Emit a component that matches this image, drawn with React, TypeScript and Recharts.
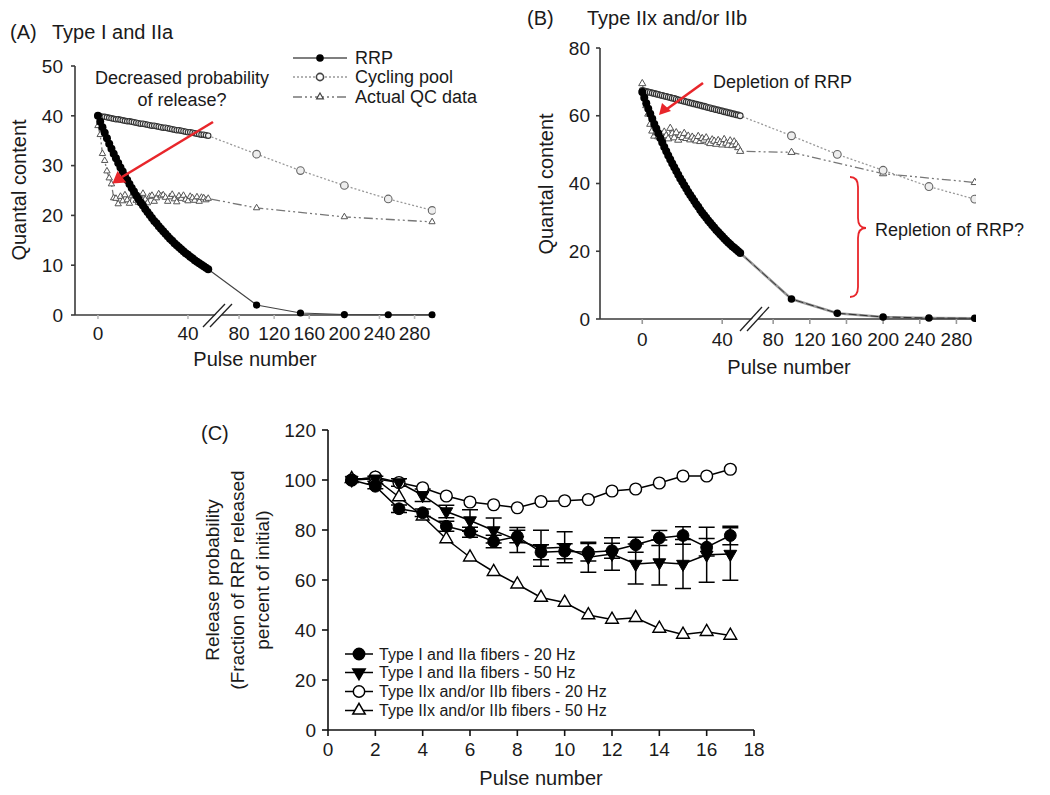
import React from "react";
import { LineChart, Line, XAxis, YAxis, ErrorBar, Legend } from "recharts";

const FONT = "'Liberation Sans', Arial, Helvetica, sans-serif";
const RED = "#e8262b";

// ---- panels A and B (pulse numbers, broken x axis) ----
const densePulses = Array.from({ length: 50 }, (_, i) => i);
const latePulses = [100, 150, 200, 250, 300];
const qcLatePulses = [100, 200, 300];
const pulseTicks = [0, 40, 80, 120, 160, 200, 240, 280];

// Panel A: Type I and IIa
const rrpA = [
  40.0, 38.8, 37.7, 36.6, 35.5, 34.4, 33.4, 32.4, 31.5, 30.5,
  29.6, 28.8, 27.9, 27.1, 26.3, 25.5, 24.8, 24.0, 23.3, 22.6,
  22.0, 21.3, 20.7, 20.1, 19.5, 18.9, 18.4, 17.8, 17.3, 16.8,
  16.3, 15.8, 15.3, 14.9, 14.4, 14.0, 13.6, 13.2, 12.8, 12.4,
  12.1, 11.7, 11.4, 11.0, 10.7, 10.4, 10.1, 9.8, 9.5, 9.2,
];
const rrpALate = [2.0, 0.4, 0.1, 0.05, 0.05];
const cycA = [
  40.0, 39.9, 39.8, 39.8, 39.7, 39.6, 39.5, 39.4, 39.3, 39.3,
  39.2, 39.1, 39.0, 38.9, 38.9, 38.8, 38.7, 38.6, 38.5, 38.4,
  38.4, 38.3, 38.2, 38.1, 38.0, 38.0, 37.9, 37.8, 37.7, 37.6,
  37.6, 37.5, 37.4, 37.3, 37.2, 37.1, 37.1, 37.0, 36.9, 36.8,
  36.7, 36.7, 36.6, 36.5, 36.4, 36.3, 36.2, 36.2, 36.1, 36.0,
];
const cycALate = [32.3, 29.0, 26.0, 23.3, 21.0];
const qcA = [
  38.0, 36.2, 32.4, 31.0, 28.9, 27.5, 26.3, 23.5, 23.4, 22.3,
  23.8, 22.9, 24.1, 23.1, 22.4, 23.9, 24.3, 23.0, 22.6, 23.6,
  24.4, 23.2, 22.5, 23.8, 24.0, 22.8, 23.5, 24.3, 23.9, 24.1,
  23.6, 22.8, 23.7, 24.2, 23.3, 22.7, 23.9, 23.4, 24.0, 23.2,
  22.9, 23.8, 23.5, 23.0, 23.7, 22.8, 23.6, 23.5, 23.1, 23.4,
];
const qcALate = [21.5, 19.7, 18.7];

// Panel B: Type IIx and/or IIb
const rrpB = [
  67.0, 65.3, 63.7, 62.1, 60.6, 59.1, 57.6, 56.2, 54.8, 53.4,
  52.1, 50.8, 49.5, 48.3, 47.1, 45.9, 44.8, 43.7, 42.6, 41.5,
  40.5, 39.5, 38.5, 37.5, 36.6, 35.7, 34.8, 33.9, 33.1, 32.2,
  31.4, 30.6, 29.9, 29.1, 28.4, 27.7, 27.0, 26.3, 25.7, 25.0,
  24.4, 23.8, 23.2, 22.6, 22.1, 21.5, 21.0, 20.5, 20.0, 19.5,
];
const rrpBLate = [5.9, 1.7, 0.6, 0.3, 0.2];
const cycB = [
  67.5, 67.3, 67.2, 67.0, 66.9, 66.7, 66.6, 66.4, 66.3, 66.1,
  66.0, 65.8, 65.7, 65.5, 65.4, 65.2, 65.1, 64.9, 64.7, 64.6,
  64.4, 64.3, 64.1, 64.0, 63.8, 63.7, 63.5, 63.4, 63.2, 63.1,
  62.9, 62.8, 62.6, 62.4, 62.3, 62.1, 62.0, 61.8, 61.7, 61.5,
  61.4, 61.2, 61.1, 60.9, 60.8, 60.6, 60.5, 60.3, 60.2, 60.0,
];
const cycBLate = [54.1, 48.6, 43.9, 39.1, 35.4];
const qcB = [
  69.5, 66.5, 63.0, 60.5, 57.5, 55.5, 54.0, 55.0, 53.8, 54.6,
  53.9, 55.2, 54.1, 53.2, 56.3, 54.7, 53.5, 55.0, 52.8, 54.2,
  53.6, 54.8, 53.3, 54.0, 52.9, 53.7, 53.1, 52.6, 53.9, 52.4,
  53.3, 52.8, 53.5, 52.2, 51.8, 52.9, 52.5, 51.6, 52.7, 52.1,
  51.4, 53.0, 51.9, 51.3, 52.6, 51.2, 52.3, 51.5, 50.6, 49.5,
];
const qcBLate = [49.2, 42.9, 40.3];

// ---- panel C ----
const pulsesC = [1, 2, 3, 4, 5, 6, 7, 8, 9, 10, 11, 12, 13, 14, 15, 16, 17];
const typeI20 = [100, 97.5, 88.5, 86.9, 81.5, 79.1, 75.4, 77.4, 71.1, 71.5, 71.1, 71.7, 74.1, 76.8, 77.8, 73.1, 77.8];
const typeI20Err = [0, 1, 1.5, 1.5, 2, 2, 2.5, 2.5, 3, 3, 3.5, 3, 3, 3, 3.5, 3.5, 3.7];
const typeI50 = [100, 100.5, 99, 93.9, 87.4, 83.8, 79.8, 76, 72.7, 73.1, 69.1, 70.4, 66.4, 67, 66.4, 70.1, 70.4];
const typeI50Err = [0, 1, 1.5, 2.5, 2.5, 4.3, 5, 5, 7.2, 6.2, 6, 6.5, 8, 9, 9.8, 11, 10.5];
const typeIIx20 = [100, 101.2, 99, 96.9, 93.6, 91.2, 90.1, 88.9, 91.4, 91.7, 92.2, 95.6, 96.4, 98.8, 101.6, 101.6, 104.3];
const typeIIx50 = [100.5, 100.5, 93.2, 85.5, 76.4, 69.1, 63.3, 58.3, 53, 51, 46, 44.2, 44.9, 40.6, 38.2, 39.3, 37.8];

// compress the pulses after the axis break
const breakA = (p: number) => (p <= 50 ? p : 62.7 + (p - 80) * 0.39);
const breakB = (p: number) => (p <= 50 ? p : 65.5 + (p - 80) * 0.4585);

const rows = (brk: (p: number) => number, pulses: number[], vals: number[]) =>
  pulses.map((p, i) => ({ x: brk(p), pulse: p, y: vals[i] }));

const tickLabel = (brk: (p: number) => number) => (v: number) => {
  const t = pulseTicks.find((tt) => Math.abs(brk(tt) - v) < 1e-6);
  return t === undefined ? "" : String(t);
};

const circleDot = (rDense: number, rLate: number, fill: string, stroke: string, sw: number, lateStroke?: string) => (p: any) => {
  if (p.cx == null || p.cy == null) return <g key={`n${p.index}`} />;
  const late = p.payload && p.payload.pulse > 50;
  return (
    <circle
      key={`c${p.index}`}
      cx={p.cx}
      cy={p.cy}
      r={late ? rLate : rDense}
      fill={fill}
      stroke={late && lateStroke ? lateStroke : stroke}
      strokeWidth={sw}
    />
  );
};

const triPath = (cx: number, cy: number, s: number, down = false) => {
  const h = s * 1.732;
  if (down) return `M${cx},${cy + (2 * h) / 3} L${cx + s},${cy - h / 3} L${cx - s},${cy - h / 3} Z`;
  return `M${cx},${cy - (2 * h) / 3} L${cx + s},${cy + h / 3} L${cx - s},${cy + h / 3} Z`;
};

const triDot = (s: number, fill: string, stroke: string, sw: number, down = false) => (p: any) => {
  if (p.cx == null || p.cy == null) return <g key={`n${p.index}`} />;
  return <path key={`t${p.index}`} d={triPath(p.cx, p.cy, s, down)} fill={fill} stroke={stroke} strokeWidth={sw} />;
};

const tickStyle = { fontSize: 19, fill: "#1a1a1a", fontFamily: FONT };
const AX = "#3a3a3a";

const legendA = () => (
  <svg width={200} height={66} style={{ overflow: "visible" }}>
    <g fontFamily={FONT} fontSize={18} fill="#1a1a1a">
      <line x1={3} x2={57} y1={13} y2={13} stroke="#555" strokeWidth={1.3} />
      <circle cx={30} cy={13} r={3.8} fill="#000" />
      <text x={65} y={13} dy="0.36em">RRP</text>
      <line x1={3} x2={57} y1={32} y2={32} stroke="#999" strokeWidth={1.3} strokeDasharray="2 2" />
      <circle cx={30} cy={32} r={3.6} fill="#fff" stroke="#444" strokeWidth={1.6} />
      <text x={65} y={32} dy="0.36em">Cycling pool</text>
      <line x1={3} x2={57} y1={52} y2={52} stroke="#777" strokeWidth={1.3} strokeDasharray="9 3 2 3 2 3" />
      <path d={triPath(30, 52, 3.4)} fill="#fff" stroke="#444" strokeWidth={1.2} />
      <text x={65} y={52} dy="0.36em">Actual QC data</text>
    </g>
  </svg>
);

const legendCItems = [
  { label: "Type I and IIa fibers - 20 Hz", kind: "circle", fill: "#000" },
  { label: "Type I and IIa fibers - 50 Hz", kind: "down", fill: "#000" },
  { label: "Type IIx and/or IIb fibers - 20 Hz", kind: "circle", fill: "#fff" },
  { label: "Type IIx and/or IIb fibers - 50 Hz", kind: "up", fill: "#fff" },
];
const legendRowsC = [9, 27.5, 46.5, 65.5];

const legendC = () => (
  <svg width={320} height={76} style={{ overflow: "visible" }}>
    <g fontFamily={FONT} fontSize={16} fill="#1a1a1a">
      {legendCItems.map((it, i) => {
        const y = legendRowsC[i];
        return (
          <g key={it.label}>
            <line x1={5} x2={33} y1={y} y2={y} stroke="#000" strokeWidth={1.5} />
            {it.kind === "circle" ? (
              <circle cx={19} cy={y} r={5.7} fill={it.fill} stroke="#000" strokeWidth={1.5} />
            ) : (
              <path d={triPath(19, y, 6.2, it.kind === "down")} fill={it.fill} stroke="#000" strokeWidth={1.5} />
            )}
            <text x={39} y={y} dy="0.36em">{it.label}</text>
          </g>
        );
      })}
    </g>
  </svg>
);

function PanelA() {
  const denseX = densePulses;
  return (
    <LineChart width={470} height={380} margin={{ top: 66, left: 25, right: 34.5, bottom: 35 }}>
      <XAxis
        type="number"
        dataKey="x"
        domain={[-10.2, 150]}
        ticks={pulseTicks.map(breakA)}
        tickFormatter={tickLabel(breakA)}
        allowDataOverflow
        height={30}
        stroke={AX}
        strokeWidth={1.6}
        tickSize={4}
        tickMargin={8}
        tick={tickStyle}
        tickLine={{ stroke: "#bbb" }}
      />
      <YAxis
        type="number"
        domain={[0, 50]}
        ticks={[0, 10, 20, 30, 40, 50]}
        width={50}
        stroke={AX}
        strokeWidth={1.6}
        tickSize={4}
        tickMargin={8}
        tick={tickStyle}
      />
      <Legend
        layout="horizontal"
        verticalAlign="middle"
        align="center"
        content={legendA}
        wrapperStyle={{ left: 290, top: 45, width: 200 }}
      />
      <Line
        data={[...rows(breakA, denseX, qcA), ...rows(breakA, qcLatePulses, qcALate)]}
        dataKey="y"
        stroke="#777"
        strokeWidth={1.3}
        strokeDasharray="9 3 2 3 2 3"
        dot={triDot(3.2, "#fff", "#555", 1)}
        isAnimationActive={false}
      />
      <Line
        data={[...rows(breakA, denseX, cycA), ...rows(breakA, latePulses, cycALate)]}
        dataKey="y"
        stroke="#999"
        strokeWidth={1.3}
        strokeDasharray="2 2"
        dot={circleDot(2.7, 3.8, "#eee", "#333", 1.1, "#666")}
        isAnimationActive={false}
      />
      <Line
        data={[...rows(breakA, denseX, rrpA), ...rows(breakA, latePulses, rrpALate)]}
        dataKey="y"
        stroke="#444"
        strokeWidth={1.2}
        dot={circleDot(4, 3.6, "#000", "none", 0)}
        isAnimationActive={false}
      />
    </LineChart>
  );
}

function PanelB() {
  const denseX = densePulses;
  return (
    <LineChart width={520} height={380} margin={{ top: 48, left: 50, right: 44, bottom: 31 }}>
      <XAxis
        type="number"
        dataKey="x"
        domain={[-21.15, 167]}
        ticks={pulseTicks.map(breakB)}
        tickFormatter={tickLabel(breakB)}
        allowDataOverflow
        height={30}
        stroke={AX}
        strokeWidth={1.6}
        tickSize={5}
        tickMargin={9}
        tick={tickStyle}
        tickLine={{ stroke: "#999" }}
      />
      <YAxis
        type="number"
        domain={[0, 80]}
        ticks={[0, 20, 40, 60, 80]}
        width={50}
        stroke={AX}
        strokeWidth={1.6}
        tickSize={4}
        tickMargin={6}
        tick={tickStyle}
      />
      <Line
        data={[...rows(breakB, denseX, qcB), ...rows(breakB, qcLatePulses, qcBLate)]}
        dataKey="y"
        stroke="#777"
        strokeWidth={1.3}
        strokeDasharray="9 3 2 3 2 3"
        dot={triDot(3.6, "#fff", "#555", 1)}
        isAnimationActive={false}
      />
      <Line
        data={[...rows(breakB, denseX, cycB), ...rows(breakB, latePulses, cycBLate)]}
        dataKey="y"
        stroke="#999"
        strokeWidth={1.3}
        strokeDasharray="2 2"
        dot={circleDot(2.9, 3.9, "#eee", "#333", 1.1, "#666")}
        isAnimationActive={false}
      />
      <Line
        data={[...rows(breakB, denseX, rrpB), ...rows(breakB, latePulses, rrpBLate)]}
        dataKey="y"
        stroke="#999"
        strokeWidth={2.6}
        dot={false}
        isAnimationActive={false}
      />
      <Line
        data={[...rows(breakB, denseX, rrpB), ...rows(breakB, latePulses, rrpBLate)]}
        dataKey="y"
        stroke="#333"
        strokeWidth={1}
        strokeDasharray="8 3"
        dot={circleDot(4, 3.8, "#000", "none", 0)}
        isAnimationActive={false}
      />
    </LineChart>
  );
}

function PanelC() {
  const dataC = pulsesC.map((p, i) => ({
    pulse: p,
    i20: typeI20[i],
    i20e: typeI20Err[i],
    i50: typeI50[i],
    i50e: typeI50Err[i],
    x20: typeIIx20[i],
    x50: typeIIx50[i],
  }));
  return (
    <LineChart width={600} height={395} data={dataC} margin={{ top: 30, left: 88, right: 36, bottom: 35 }}>
      <XAxis
        type="number"
        dataKey="pulse"
        domain={[0, 18]}
        ticks={[0, 2, 4, 6, 8, 10, 12, 14, 16, 18]}
        height={30}
        stroke="#111"
        strokeWidth={1.6}
        tickSize={6}
        tickMargin={7}
        tick={tickStyle}
      />
      <YAxis
        type="number"
        domain={[0, 120]}
        ticks={[0, 20, 40, 60, 80, 100, 120]}
        width={50}
        stroke="#111"
        strokeWidth={1.6}
        tickSize={6}
        tickMargin={6}
        tick={tickStyle}
      />
      <Legend
        layout="horizontal"
        verticalAlign="middle"
        align="center"
        content={legendC}
        wrapperStyle={{ left: 150, top: 245, width: 320 }}
      />
      <Line dataKey="x50" stroke="#000" strokeWidth={1.5} dot={triDot(6.4, "#fff", "#000", 1.4)} isAnimationActive={false} />
      <Line dataKey="x20" stroke="#000" strokeWidth={1.5} dot={circleDot(5.9, 5.9, "#fff", "#000", 1.4)} isAnimationActive={false} />
      <Line dataKey="i50" stroke="#000" strokeWidth={1.5} dot={triDot(6.4, "#000", "#000", 1, true)} isAnimationActive={false}>
        <ErrorBar dataKey="i50e" direction="y" width={8} stroke="#000" strokeWidth={1.5} />
      </Line>
      <Line dataKey="i20" stroke="#000" strokeWidth={1.5} dot={circleDot(5.9, 5.9, "#000", "#000", 1)} isAnimationActive={false}>
        <ErrorBar dataKey="i20e" direction="y" width={8} stroke="#000" strokeWidth={1.5} />
      </Line>
    </LineChart>
  );
}

function Overlay() {
  return (
    <svg
      width={1050}
      height={795}
      style={{ position: "absolute", left: 0, top: 0, pointerEvents: "none" }}
      fontFamily={FONT}
      fill="#1a1a1a"
    >
      {/* panel titles */}
      <text x={10} y={39} fontSize={20}>(A)</text>
      <text x={52} y={39} fontSize={20}>Type I and IIa</text>
      <text x={527} y={25} fontSize={20}>(B)</text>
      <text x={587} y={25} fontSize={20}>Type IIx and/or IIb</text>
      <text x={201} y={440} fontSize={20}>(C)</text>

      {/* axis titles */}
      <text x={26} y={190} fontSize={20} textAnchor="middle" transform="rotate(-90 26 190)">Quantal content</text>
      <text x={255} y={366} fontSize={20} textAnchor="middle">Pulse number</text>
      <text x={553} y={184} fontSize={20} textAnchor="middle" transform="rotate(-90 553 184)">Quantal content</text>
      <text x={789} y={374} fontSize={20} textAnchor="middle">Pulse number</text>
      <text x={541} y={785} fontSize={20} textAnchor="middle">Pulse number</text>
      <g fontSize={19} textAnchor="middle">
        <text x={219} y={580} transform="rotate(-90 219 580)">Release probability</text>
        <text x={244} y={580} transform="rotate(-90 244 580)">(Fraction of RRP released</text>
        <text x={269} y={580} transform="rotate(-90 269 580)">percent of initial)</text>
      </g>

      {/* axis breaks */}
      <polygon points="205,326 226,304 232,304 211,326" fill="#fff" />
      <line x1={203} y1={327} x2={225} y2={304} stroke="#222" strokeWidth={1.3} />
      <line x1={210} y1={327} x2={232} y2={304} stroke="#222" strokeWidth={1.3} />
      <polygon points="742,330 763,307 769,307 748,330" fill="#fff" />
      <line x1={740} y1={331} x2={762} y2={307} stroke="#222" strokeWidth={1.3} />
      <line x1={747} y1={331} x2={769} y2={307} stroke="#222" strokeWidth={1.3} />

      {/* annotations A */}
      <g fontSize={18} textAnchor="middle">
        <text x={182} y={84}>Decreased probability</text>
        <text x={182} y={106}>of release?</text>
      </g>
      <line x1={213} y1={122} x2={122} y2={177} stroke={RED} strokeWidth={2.6} />
      <path d="M112,183 L118,171 L126,183 Z" fill={RED} transform="rotate(-4 118 178)" />

      {/* annotations B */}
      <text x={713} y={88} fontSize={18}>Depletion of RRP</text>
      <line x1={703} y1={83} x2={667} y2={109} stroke={RED} strokeWidth={2.6} />
      <path d="M659,115 L662,103 L671,111 Z" fill={RED} />
      <path
        d="M850,177 Q858,177 858,187 L858,218 Q858,228 866,228 Q858,228 858,238 L858,287 Q858,297 850,297"
        fill="none"
        stroke={RED}
        strokeWidth={1.8}
      />
      <text x={875} y={236} fontSize={18}>Repletion of RRP?</text>
    </svg>
  );
}

export default function App() {
  return (
    <div style={{ position: "absolute", left: 0, top: 0, width: 1050, height: 795, background: "#fff", fontFamily: FONT }}>
      <div style={{ position: "absolute", left: 0, top: 0 }}>
        <PanelA />
      </div>
      <div style={{ position: "absolute", left: 500, top: 0 }}>
        <PanelB />
      </div>
      <div style={{ position: "absolute", left: 190, top: 400 }}>
        <PanelC />
      </div>
      <Overlay />
    </div>
  );
}
